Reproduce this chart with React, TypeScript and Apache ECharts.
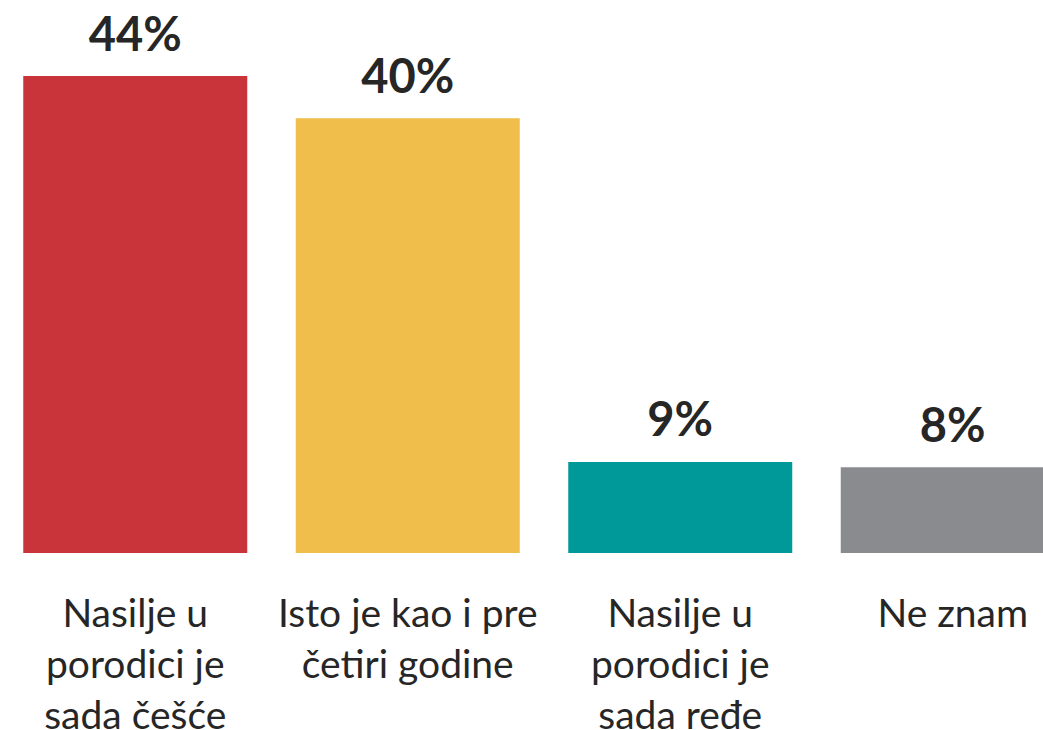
import React, { useEffect, useRef } from "react";
import * as echarts from "echarts";

const categories = [
  "Nasilje u\nporodici je\nsada češće",
  "Isto je kao i pre\nčetiri godine",
  "Nasilje u\nporodici je\nsada ređe",
  "Ne znam",
];
const values = [44.0, 40.1, 8.4, 7.9];
const labels = ["44%", "40%", "9%", "8%"];
const colors = ["#C9333A", "#F0BE4A", "#009999", "#898B8E"];

export default function App() {
  const ref = useRef<HTMLDivElement>(null);
  useEffect(() => {
    if (!ref.current) return;
    const chart = echarts.init(ref.current, null, { renderer: "svg" });
    chart.setOption({
      animation: false,
      backgroundColor: "#ffffff",
      grid: {
        left: 0,
        width: 1090,
        top: 11,
        bottom: 177,
        containLabel: false,
        outerBoundsMode: "none",
      },
      xAxis: {
        type: "category",
        data: categories,
        axisLine: { show: false },
        axisTick: { show: false },
        axisLabel: {
          interval: 0,
          margin: 33,
          fontFamily: "Lato",
          fontSize: 39,
          lineHeight: 51,
          color: "#262626",
          verticalAlign: "top",
        },
      },
      yAxis: {
        type: "value",
        min: 0,
        max: 50,
        show: false,
        splitLine: { show: false },
      },
      series: [
        {
          type: "bar",
          barWidth: 224,
          data: values.map((v, i) => ({
            value: v,
            itemStyle: { color: colors[i] },
          })),
          label: {
            show: true,
            position: "top",
            distance: 20,
            formatter: (p: any) => labels[p.dataIndex],
            fontFamily: "Lato",
            fontWeight: "bold",
            fontSize: 47,
            color: "#262626",
          },
        },
      ],
    });
    return () => chart.dispose();
  }, []);
  return (
    <div
      style={{
        position: "fixed",
        left: 0,
        top: 0,
        width: 1043,
        height: 730,
        overflow: "hidden",
        background: "#ffffff",
      }}
    >
      <div
        ref={ref}
        style={{ position: "absolute", left: -1, top: 0, width: 1092, height: 730 }}
      />
    </div>
  );
}
